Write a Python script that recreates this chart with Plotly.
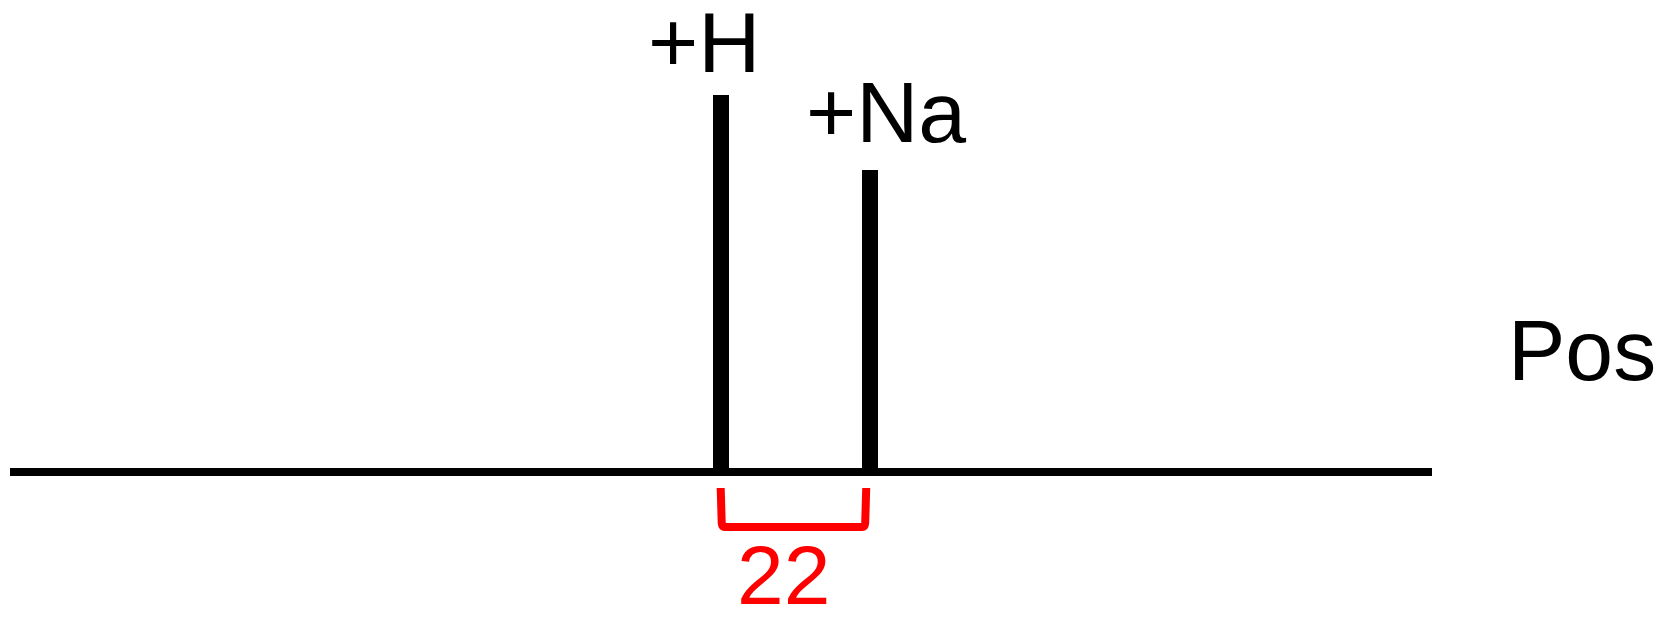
import plotly.graph_objects as go

# ---- data ----
adduct_labels = ["+H", "+Na"]
adduct_mz = [1, 23]          # relative m/z of the adduct peaks
adduct_intensity = [100, 80]  # relative intensity
mode_label = "Pos"
delta_label = str(adduct_mz[1] - adduct_mz[0])  # "22"

# page body has an 8px margin; figure sized so page fits 1662x620
BODY = 8
W, H = 1662 - 2 * BODY, 620 - 2 * BODY
px_per_x = 6.8
px_per_y = 3.77
x0_px = 720.7 - BODY   # figure pixel of first peak
y0_px = 472 - BODY     # figure pixel of baseline

x_range = [adduct_mz[0] - x0_px / px_per_x, adduct_mz[0] + (W - x0_px) / px_per_x]
y_range = [-(H - y0_px) / px_per_y, y0_px / px_per_y]

def xu(sx):
    return adduct_mz[0] + (sx - BODY - x0_px) / px_per_x

def yu(sy):
    return (y0_px - (sy - BODY)) / px_per_y

FONT = "Liberation Sans, Arial, sans-serif"
TXT_C = 1.5  # text cap-centre correction (px)

fig = go.Figure()
fig.add_trace(go.Bar(
    x=adduct_mz, y=adduct_intensity, width=16 / px_per_x,
    marker=dict(color="black", line=dict(width=0)), hoverinfo="skip", showlegend=False,
))

# baseline
fig.add_shape(type="line", xref="x", yref="y",
              x0=xu(10), x1=xu(1432), y0=0, y1=0,
              line=dict(color="black", width=8), layer="above")

# red bracket between peaks
bx0 = adduct_mz[0]
bx1 = adduct_mz[1] - 0.6
by_top = yu(488)
by_bot = yu(527)
r_x = 4 / px_per_x
r_y = 4 / px_per_y
path = (f"M {bx0},{by_top} L {bx0 + 0.15},{by_bot + r_y} Q {bx0 + 0.2},{by_bot} {bx0 + r_x},{by_bot} "
        f"L {bx1 - r_x},{by_bot} Q {bx1 - 0.2},{by_bot} {bx1 - 0.15},{by_bot + r_y} L {bx1},{by_top}")
fig.add_shape(type="path", xref="x", yref="y", path=path,
              line=dict(color="#ff0000", width=8))

def label(text, sx, sy, size, color):
    fig.add_annotation(x=xu(sx), y=yu(sy - TXT_C), xref="x", yref="y",
                       text=text, showarrow=False, xanchor="center", yanchor="middle",
                       font=dict(family=FONT, size=size, color=color))

label(adduct_labels[0], 703.5, 43.4, 86, "black")
label(adduct_labels[1], 885.5, 113, 86, "black")
label(mode_label, 1582, 351.5, 86, "black")
label(delta_label, 783, 576, 84, "#ff0000")

fig.update_layout(
    width=W, height=H, margin=dict(l=0, r=0, t=0, b=0),
    plot_bgcolor="white", paper_bgcolor="white",
    xaxis=dict(range=x_range, visible=False, fixedrange=True),
    yaxis=dict(range=y_range, visible=False, fixedrange=True),
    bargap=0,
)
fig.write_html("out.html")
